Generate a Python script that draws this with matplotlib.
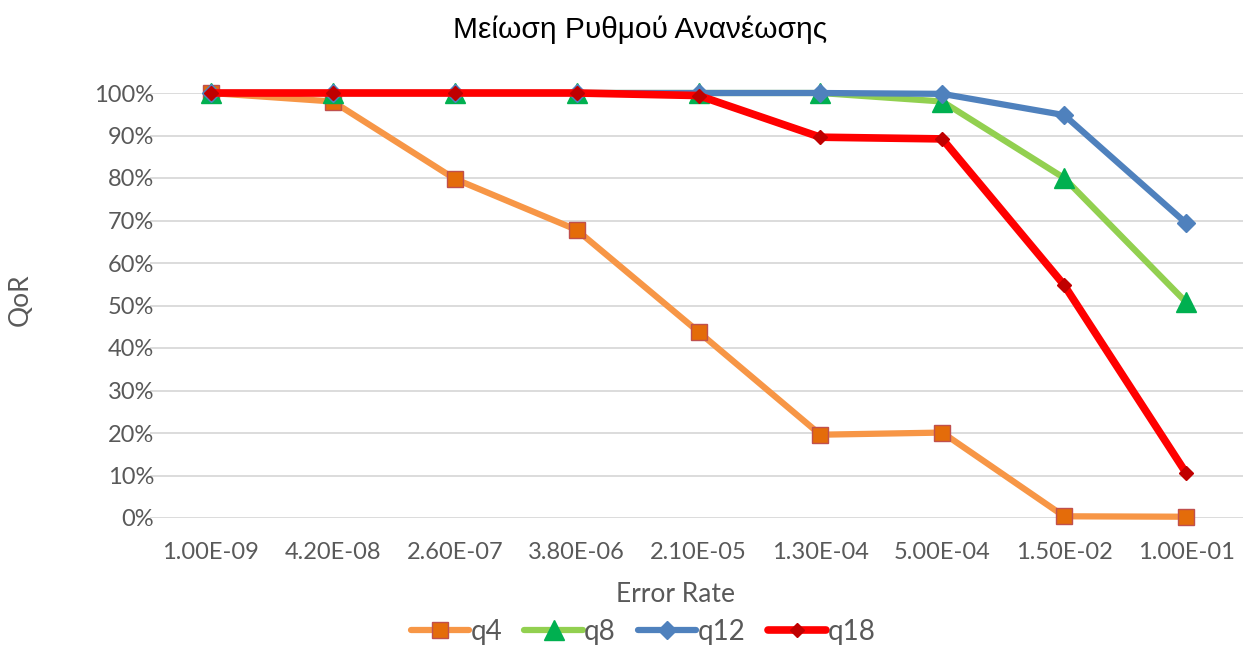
import matplotlib.pyplot as plt
from matplotlib.ticker import PercentFormatter

# Datos
categorias = ['1.00E-09', '4.20E-08', '2.60E-07', '3.80E-06', '2.10E-05',
              '1.30E-04', '5.00E-04', '1.50E-02', '1.00E-01']
q4 = [100, 98, 79.8, 67.8, 43.8, 19.6, 20.1, 0.4, 0.3]
q8 = [100, 100, 100, 100, 100, 100, 98, 80, 50.8]
q12 = [100, 100, 100, 100, 100, 100, 99.8, 94.8, 69.4]
q18 = [100, 100, 100, 100, 99.4, 89.6, 89.2, 54.8, 10.6]

plt.rcParams['font.family'] = ['Lato', 'DejaVu Sans']
gris = '#595959'

fig = plt.figure(figsize=(12.43, 6.48), dpi=100)
ax = fig.add_axes([150 / 1243, 1 - 518 / 648, 1097 / 1243, 425 / 648])

x = list(range(len(categorias)))

# Series: (valores, etiqueta, color linea, marcador, color marcador, borde, tamano, grosor)
series = [
    (q4, 'q4', '#F79646', 's', '#E46C0A', '#C0504D', 12, 4.5),
    (q8, 'q8', '#92D050', '^', '#00B050', '#00B050', 15, 4.5),
    (q12, 'q12', '#4F81BD', 'D', '#4F81BD', '#4F81BD', 9, 4.5),
    (q18, 'q18', '#FF0000', 'D', '#C00000', '#C00000', 7, 5.5),
]

for i, (valores, etiqueta, color, marcador, cara, borde, tam, lw) in enumerate(series):
    ax.plot(x, [v / 100 for v in valores], color=color, lw=lw, marker=marcador,
            markersize=tam, markerfacecolor=cara, markeredgecolor=borde,
            markeredgewidth=1, label=etiqueta, clip_on=False, zorder=3 + i,
            solid_joinstyle='round', solid_capstyle='round')

ax.set_xlim(-0.5, len(categorias) - 0.5)
ax.set_ylim(0, 1.0)
ax.set_yticks([i / 10 for i in range(11)])
ax.yaxis.set_major_formatter(PercentFormatter(1.0, decimals=0))
ax.set_xticks(x)
ax.set_xticklabels(categorias)

ax.grid(axis='y', color='#D9D9D9', lw=1.3)
ax.set_axisbelow(True)
for lado in ['top', 'right', 'left', 'bottom']:
    ax.spines[lado].set_visible(False)
ax.tick_params(axis='both', length=0, labelsize=17, colors=gris)
ax.tick_params(axis='y', pad=-3)
ax.tick_params(axis='x', pad=17)

ax.set_xlabel('Error Rate', fontsize=19, color=gris)
ax.set_ylabel('QoR', fontsize=19, color=gris)
ax.xaxis.set_label_coords((675 - 150) / 1097, -(582 - 518) / 425)
ax.yaxis.set_label_coords(-(150 - 33) / 1097, (518 - 300) / 425)
fig.text(640 / 1243, 1 - 30 / 648, 'Μείωση Ρυθμού Ανανέωσης', ha='center', va='center',
         fontsize=21.5, family=['Liberation Sans', 'DejaVu Sans'], color='#000000')

leg = fig.legend(loc='center', bbox_to_anchor=(643 / 1243, 1 - 632 / 648), ncol=4,
                 frameon=False, fontsize=20, handlelength=2.1, numpoints=1,
                 columnspacing=0.8, handletextpad=0.05)
for t in leg.get_texts():
    t.set_color(gris)

fig.savefig('out.png', dpi=100)
